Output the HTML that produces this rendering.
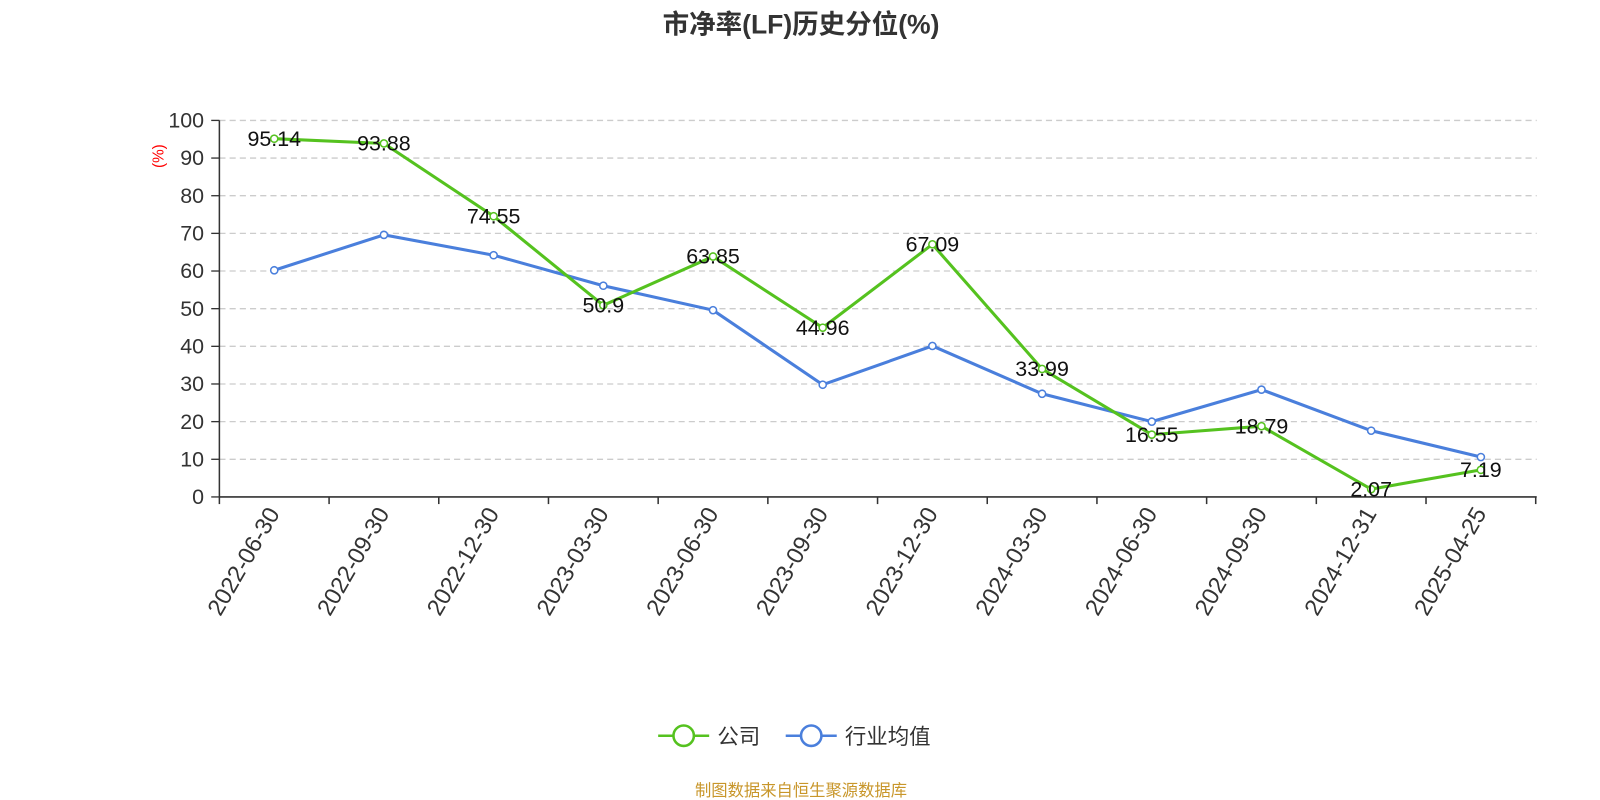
<!DOCTYPE html>
<html><head><meta charset="utf-8"><style>body{margin:0;background:#fff}svg{display:block}</style></head><body>
<svg width="1600" height="800" viewBox="0 0 1568 784" xmlns="http://www.w3.org/2000/svg" font-family="'Liberation Sans','Noto Sans CJK SC',sans-serif">
<text x="785" y="33" text-anchor="middle" font-size="26" font-weight="bold" fill="#333">市净率(LF)历史分位(%)</text>
<g id="grid" stroke="#ccc" stroke-dasharray="6,4" stroke-width="1.3"></g>
<g id="yl" font-size="21" fill="#333" text-anchor="end"></g>
<text x="160" y="153" font-size="15" fill="red" transform="rotate(-90 160 153)" text-anchor="middle">(%)</text>
<line x1="215" y1="118" x2="215" y2="487" stroke="#333" stroke-width="1.5"/>
<line x1="215" y1="487" x2="1506" y2="487" stroke="#333" stroke-width="1.5"/>
<g id="xt" stroke="#333" stroke-width="1.5"></g>
<g id="xl" font-size="23" fill="#333" text-anchor="end"></g>
<polyline id="ind" fill="none" stroke="#4a7fdc" stroke-width="3"/>
<polyline id="com" fill="none" stroke="#55c21f" stroke-width="3"/>
<g id="pts"></g>
<g id="lab" font-size="21" fill="#111" text-anchor="middle"></g>
<line x1="645" y1="721" x2="695" y2="721" stroke="#55c21f" stroke-width="2.5"/>
<circle cx="670" cy="721" r="10" fill="#fff" stroke="#55c21f" stroke-width="2.5"/>
<text x="703" y="729" font-size="21" fill="#333">公司</text>
<line x1="770" y1="721" x2="820" y2="721" stroke="#4a7fdc" stroke-width="2.5"/>
<circle cx="795" cy="721" r="10" fill="#fff" stroke="#4a7fdc" stroke-width="2.5"/>
<text x="828" y="729" font-size="21" fill="#333">行业均值</text>
<text x="785" y="780" font-size="16" fill="#c8962a" text-anchor="middle">制图数据来自恒生聚源数据库</text>
</svg>
<script>
const ns="http://www.w3.org/2000/svg";
function el(p,t,a,tx){const e=document.createElementNS(ns,t);for(const k in a)e.setAttribute(k,a[k]);if(tx!==undefined)e.textContent=tx;document.getElementById(p).appendChild(e);}
const Y=v=>487-v*3.69,X=i=>215+107.5*(i+0.5);
for(let v=0;v<=100;v+=10){if(v>0)el('grid','line',{x1:215,x2:1506,y1:Y(v),y2:Y(v)});el('yl','text',{x:200,y:Y(v)+7},v);el('grid','line',{x1:207,x2:215,y1:Y(v),y2:Y(v),stroke:'#333','stroke-dasharray':'none'});}
const d=['2022-06-30','2022-09-30','2022-12-30','2023-03-30','2023-06-30','2023-09-30','2023-12-30','2024-03-30','2024-06-30','2024-09-30','2024-12-31','2025-04-25'];
for(let i=0;i<=12;i++)el('xt','line',{x1:215+107.5*i,x2:215+107.5*i,y1:487,y2:494});
d.forEach((s,i)=>{const x=X(i)+6,y=503;el('xl','text',{x,y,transform:`rotate(-60 ${x} ${y})`},s);});
const c=[95.14,93.88,74.55,50.9,63.85,44.96,67.09,33.99,16.55,18.79,2.07,7.19];
const n=[60.2,69.6,64.2,56.1,49.6,29.8,40.1,27.4,20,28.5,17.6,10.6];
document.getElementById('ind').setAttribute('points',n.map((v,i)=>X(i)+','+Y(v)).join(' '));
document.getElementById('com').setAttribute('points',c.map((v,i)=>X(i)+','+Y(v)).join(' '));
n.forEach((v,i)=>el('pts','circle',{cx:X(i),cy:Y(v),r:3.5,fill:'#fff',stroke:'#4a7fdc','stroke-width':1.5}));
c.forEach((v,i)=>el('pts','circle',{cx:X(i),cy:Y(v),r:3.5,fill:'#fff',stroke:'#55c21f','stroke-width':1.5}));
c.forEach((v,i)=>el('lab','text',{x:X(i),y:Y(v)+7},v));
</script>
</body></html>
